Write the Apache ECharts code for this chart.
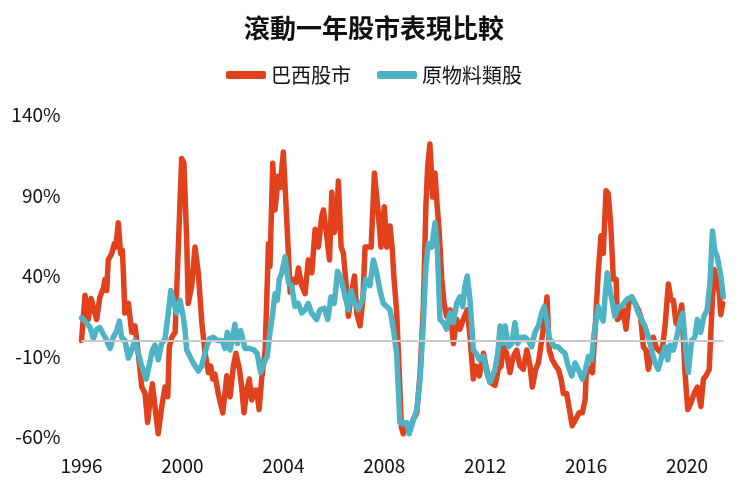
<!DOCTYPE html>
<html>
<head>
<meta charset="utf-8">
<script src="https://cdn.jsdelivr.net/npm/echarts@6/dist/echarts.min.js"></script>
<style>html,body{margin:0;padding:0;background:#fff}#c{width:748px;height:491px}</style>
</head>
<body>
<div id="c"></div>
<script>
const titleText = '滾動一年股市表現比較';
const seriesNames = ['巴西股市', '原物料類股'];
const yTicks = { min: -60, max: 140, interval: 50 };
const xTicks = { min: 1996, max: 2021.45, interval: 4 };

const brazilDates = [1996.00,1996.14,1996.27,1996.38,1996.60,1996.73,1996.86,1996.93,1997.00,1997.06,1997.20,1997.30,1997.36,1997.46,1997.55,1997.62,1997.66,1997.72,1997.86,1997.99,1998.12,1998.25,1998.39,1998.52,1998.62,1998.72,1998.81,1998.91,1999.04,1999.18,1999.31,1999.42,1999.48,1999.58,1999.71,1999.97,2000.06,2000.17,2000.23,2000.37,2000.50,2000.63,2000.77,2000.90,2001.03,2001.12,2001.20,2001.29,2001.42,2001.60,2001.76,2001.89,2002.02,2002.12,2002.26,2002.35,2002.44,2002.55,2002.65,2002.75,2002.84,2002.95,2003.04,2003.14,2003.28,2003.41,2003.47,2003.58,2003.67,2003.80,2003.87,2004.00,2004.14,2004.20,2004.27,2004.40,2004.51,2004.60,2004.73,2004.86,2004.99,2005.13,2005.26,2005.39,2005.52,2005.59,2005.72,2005.83,2005.92,2006.02,2006.12,2006.18,2006.29,2006.38,2006.47,2006.58,2006.68,2006.82,2006.91,2007.04,2007.15,2007.24,2007.36,2007.48,2007.61,2007.74,2007.87,2008.00,2008.10,2008.23,2008.32,2008.38,2008.49,2008.58,2008.68,2008.75,2008.89,2009.02,2009.15,2009.29,2009.42,2009.55,2009.65,2009.72,2009.81,2009.92,2010.01,2010.10,2010.18,2010.28,2010.37,2010.47,2010.61,2010.74,2010.87,2011.00,2011.13,2011.29,2011.40,2011.53,2011.64,2011.77,2011.93,2012.06,2012.19,2012.39,2012.52,2012.63,2012.72,2012.85,2012.98,2013.11,2013.25,2013.38,2013.51,2013.65,2013.78,2013.87,2014.00,2014.11,2014.24,2014.37,2014.45,2014.54,2014.66,2014.80,2014.90,2015.01,2015.10,2015.23,2015.32,2015.45,2015.59,2015.72,2015.85,2015.96,2016.02,2016.11,2016.25,2016.35,2016.48,2016.59,2016.68,2016.79,2016.88,2016.98,2017.08,2017.19,2017.24,2017.37,2017.47,2017.58,2017.69,2017.81,2017.94,2018.07,2018.16,2018.27,2018.37,2018.47,2018.56,2018.66,2018.77,2018.86,2019.00,2019.13,2019.26,2019.37,2019.46,2019.56,2019.65,2019.79,2019.92,2020.03,2020.15,2020.28,2020.41,2020.55,2020.65,2020.75,2020.88,2020.98,2021.07,2021.18,2021.28,2021.34,2021.41];
const brazilValues = [0,28,13,26,13,27,32,38,31,50,54,60,58,73,54,56,42,17,23,5,9,-8,-29,-33,-51,-37,-27,-41,-58,-41,-29,-35,-4,2,5,113,110,62,23,34,58,42,11,-8,-20,-16,-24,-21,-33,-45,-22,-35,-16,-8,-18,-29,-45,-31,-24,-37,-31,-31,-43,-24,-6,60,46,110,81,102,95,117,73,54,30,38,36,45,34,29,50,42,69,58,77,81,65,50,92,67,75,99,58,54,38,15,27,40,17,9,25,58,58,58,104,83,58,83,58,71,56,40,18,-15,-54,-58,-53,-55,-49,-45,-20,21,83,108,122,89,104,83,67,38,23,15,19,-2,13,7,13,19,2,-24,-16,-22,-8,-18,-26,-28,-18,-16,-4,-8,-20,-10,-6,-16,-18,-6,-16,-29,-18,-14,0,15,27,-6,-12,-16,-18,-24,-33,-33,-41,-53,-49,-45,-45,-37,-16,-18,-20,5,42,65,54,93,91,71,38,38,13,15,19,7,23,27,23,19,15,-4,-6,-18,-10,2,-4,-6,-8,9,35,25,25,11,9,22,-20,-43,-39,-33,-29,-41,-24,-22,-18,17,44,38,29,16,23];

const commodityDates = [1996.00,1996.14,1996.34,1996.47,1996.60,1996.73,1996.86,1997.00,1997.13,1997.26,1997.40,1997.50,1997.59,1997.72,1997.86,1997.99,1998.12,1998.25,1998.39,1998.56,1998.65,1998.81,1998.91,1999.04,1999.18,1999.31,1999.44,1999.54,1999.67,1999.77,1999.90,2000.03,2000.10,2000.17,2000.30,2000.43,2000.63,2000.76,2000.86,2000.96,2001.07,2001.22,2001.38,2001.57,2001.69,2001.78,2001.89,2002.08,2002.18,2002.31,2002.48,2002.68,2002.84,2002.96,2003.10,2003.23,2003.36,2003.47,2003.58,2003.67,2003.76,2003.84,2003.94,2004.07,2004.20,2004.33,2004.46,2004.59,2004.73,2004.86,2004.99,2005.12,2005.32,2005.45,2005.62,2005.76,2005.89,2006.02,2006.15,2006.29,2006.42,2006.58,2006.68,2006.84,2006.97,2007.13,2007.26,2007.43,2007.57,2007.70,2007.83,2007.96,2008.10,2008.23,2008.36,2008.49,2008.62,2008.75,2008.89,2008.99,2009.10,2009.29,2009.42,2009.55,2009.65,2009.75,2009.88,2010.01,2010.10,2010.21,2010.34,2010.47,2010.61,2010.74,2010.87,2011.00,2011.11,2011.20,2011.29,2011.40,2011.53,2011.64,2011.77,2011.93,2012.06,2012.19,2012.39,2012.50,2012.59,2012.68,2012.79,2012.92,2013.05,2013.18,2013.29,2013.42,2013.58,2013.71,2013.84,2013.97,2014.11,2014.24,2014.34,2014.44,2014.53,2014.66,2014.77,2014.89,2015.01,2015.16,2015.29,2015.43,2015.56,2015.69,2015.85,2015.98,2016.09,2016.22,2016.32,2016.48,2016.59,2016.68,2016.75,2016.84,2016.95,2017.05,2017.14,2017.27,2017.41,2017.54,2017.67,2017.81,2017.94,2018.07,2018.20,2018.33,2018.47,2018.60,2018.73,2018.86,2019.00,2019.13,2019.23,2019.33,2019.46,2019.59,2019.72,2019.83,2019.96,2020.05,2020.18,2020.31,2020.41,2020.54,2020.67,2020.80,2020.91,2021.01,2021.10,2021.20,2021.34,2021.44];
const commodityValues = [14,12,8,1,7,8,4,0,-5,2,6,12,2,0,-11,-6,0,-8,-16,-24,-18,-6,-3,-12,-2,1,17,31,23,17,25,15,7,-6,-10,-14,-19,-16,-10,-4,1,2,0,0,-5,5,-6,10,-2,6,-5,-5,-6,-8,-20,-14,-10,5,17,29,25,38,42,52,36,34,21,23,17,19,23,17,13,19,20,13,27,23,43,38,29,19,31,23,19,25,38,34,50,42,31,23,21,19,7,-8,-51,-52,-51,-58,-52,-43,-24,11,46,60,58,73,58,13,11,7,17,11,23,27,21,34,40,25,-6,-8,-12,-10,-20,-26,-18,-8,9,-2,9,-4,-2,11,-2,2,2,0,-4,5,9,17,21,13,2,-2,-4,-4,-6,-8,-16,-22,-14,-18,-24,-18,-10,-12,5,21,15,12,27,42,31,23,15,21,21,24,26,27,23,17,13,9,2,-6,-14,-18,-10,-4,-12,-3,-6,2,12,17,-8,-20,0,2,13,5,15,19,36,68,56,52,40,27];

const pair = (d, v) => d.map((x, i) => [x, v[i]]);
const FONT = '"Noto Sans CJK TC", "Noto Sans", sans-serif';

const chart = echarts.init(document.getElementById('c'), null, { renderer: 'canvas' });
chart.setOption({
  animation: false,
  backgroundColor: '#fff',
  title: {
    text: titleText, left: 'center', top: 10,
    textStyle: { fontFamily: FONT, fontSize: 26, fontWeight: 'bold', color: '#111' }
  },
  legend: {
    data: seriesNames, top: 60, left: 'center',
    icon: 'roundRect', itemWidth: 40, itemHeight: 8, itemGap: 26,
    textStyle: { fontFamily: FONT, fontSize: 20, color: '#111' }
  },
  grid: { left: 81.5, right: 24.4, top: 115, bottom: 54, containLabel: false },
  xAxis: {
    type: 'value', min: xTicks.min, max: xTicks.max, interval: xTicks.interval,
    axisLine: { show: false }, axisTick: { show: false }, splitLine: { show: false },
    axisLabel: {
      margin: 19, fontFamily: FONT, fontSize: 19, color: '#111',
      formatter: v => (v % 4 === 0 ? String(v) : '')
    }
  },
  yAxis: {
    type: 'value', min: yTicks.min, max: yTicks.max, interval: yTicks.interval,
    axisLine: { show: false }, axisTick: { show: false }, splitLine: { show: false },
    axisLabel: { margin: 21, fontFamily: FONT, fontSize: 19, color: '#111', formatter: '{value}%' }
  },
  series: [
    {
      type: 'line', data: [], z: 1, silent: true,
      markLine: {
        silent: true, symbol: ['none', 'none'], label: { show: false },
        lineStyle: { color: '#c9c9c9', width: 2, type: 'solid' },
        data: [{ yAxis: 0 }]
      }
    },
    {
      name: seriesNames[0], type: 'line', data: pair(brazilDates, brazilValues),
      showSymbol: false, symbol: 'none', z: 2,
      itemStyle: { color: '#e2411d' },
      lineStyle: { color: '#e2411d', width: 5.5, cap: 'round', join: 'round' }
    },
    {
      name: seriesNames[1], type: 'line', data: pair(commodityDates, commodityValues),
      showSymbol: false, symbol: 'none', z: 3,
      itemStyle: { color: '#4db3c5' },
      lineStyle: { color: '#4db3c5', width: 5.5, cap: 'round', join: 'round' }
    }
  ]
});
</script>
</body>
</html>
